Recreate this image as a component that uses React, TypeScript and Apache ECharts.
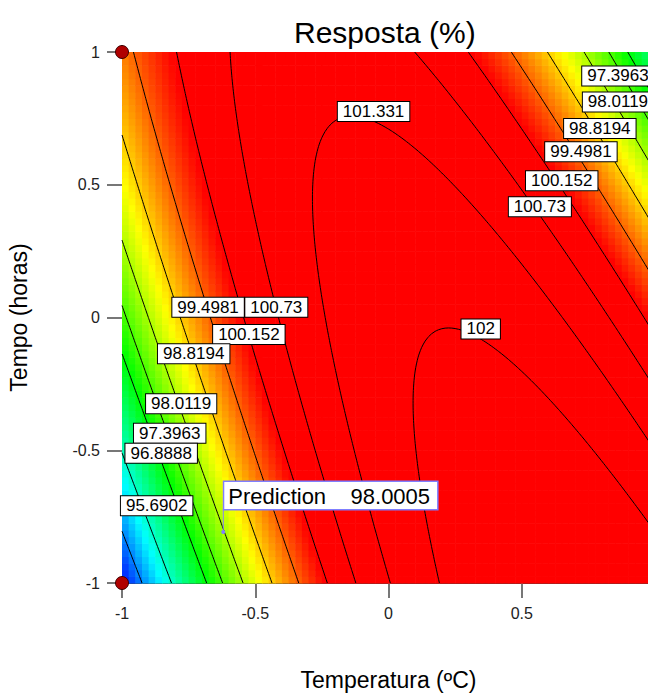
import React, { useEffect, useRef } from "react";
import * as echarts from "echarts";

// Second-order response-surface model:
// Resposta = b0 + b1*T + b2*t + b11*T^2 + b22*t^2 + b12*T*t
const modelTerms = ["b0", "b1", "b2", "b11", "b22", "b12"];
const modelCoefficients = [101.83, 1.336, -0.192, -3.22, -0.72, -2.934];

const contourLevels = [94.6, 95.6902, 96.8888, 97.3963, 98.0119, 98.8194, 99.4981, 100.152, 100.73, 101.331, 102];

const labelTexts = ["97.3963", "98.0119", "98.8194", "99.4981", "100.152", "100.73", "101.331", "102", "99.4981", "100.73", "100.152", "98.8194", "98.0119", "97.3963", "96.8888", "95.6902"];
const labelX = [0.861, 0.861, 0.793, 0.722, 0.65, 0.568, -0.056, 0.346, -0.677, -0.421, -0.524, -0.731, -0.778, -0.821, -0.853, -0.87];
const labelY = [0.91, 0.812, 0.712, 0.624, 0.515, 0.417, 0.776, -0.043, 0.039, 0.039, -0.064, -0.137, -0.325, -0.436, -0.511, -0.709];

const axisTicks = [-1, -0.5, 0, 0.5, 1];
const designX = [-1, -1];
const designY = [1, -1];
const predictionPoint = [-0.62, -0.808];
const predictionText = "Prediction    98.0005";

const colorStops = ["#0000ff", "#00ffff", "#00ff00", "#ffff00", "#ff0000"];
const colorDomain = [93.8, 100.1];
const cellCount = 80;
const contourResolution = 160;

const FONT = "'Liberation Sans', Arial, sans-serif";

function model(x: number, y: number): number {
  const [b0, b1, b2, b11, b22, b12] = modelCoefficients;
  return b0 + b1 * x + b2 * y + b11 * x * x + b22 * y * y + b12 * x * y;
}

function buildCells() {
  const lo = axisTicks[0];
  const hi = axisTicks[axisTicks.length - 1];
  const step = (hi - lo) / cellCount;
  const out: number[][] = [];
  for (let i = 0; i < cellCount; i++) {
    for (let j = 0; j < cellCount; j++) {
      const x0 = lo + i * step;
      const y0 = lo + j * step;
      const v = model(x0 + step / 2, y0 + step / 2);
      const vc = Math.min(colorDomain[1], Math.max(colorDomain[0], v));
      out.push([x0, y0, x0 + step, y0 + step, vc, v]);
    }
  }
  return out;
}

function contourLines(level: number): number[][][] {
  const n = contourResolution;
  const lo = axisTicks[0];
  const hi = axisTicks[axisTicks.length - 1];
  const c = (k: number) => lo + ((hi - lo) * k) / n;
  const V: number[][] = [];
  for (let i = 0; i <= n; i++) {
    V.push([]);
    for (let j = 0; j <= n; j++) V[i].push(model(c(i), c(j)));
  }
  const pts = new Map<string, number[]>();
  const segs: string[][] = [];
  const edge = (key: string, x1: number, y1: number, v1: number, x2: number, y2: number, v2: number) => {
    if (!pts.has(key)) {
      const t = (level - v1) / (v2 - v1);
      pts.set(key, [x1 + t * (x2 - x1), y1 + t * (y2 - y1)]);
    }
    return key;
  };
  for (let i = 0; i < n; i++) {
    for (let j = 0; j < n; j++) {
      const va = V[i][j], vb = V[i + 1][j], vc = V[i + 1][j + 1], vd = V[i][j + 1];
      const sa = va > level, sb = vb > level, sc = vc > level, sd = vd > level;
      const xa = c(i), xb = c(i + 1), ya = c(j), yd = c(j + 1);
      let B: string | null = null, R: string | null = null, T: string | null = null, L: string | null = null;
      if (sa !== sb) B = edge(`h${i},${j}`, xa, ya, va, xb, ya, vb);
      if (sb !== sc) R = edge(`v${i + 1},${j}`, xb, ya, vb, xb, yd, vc);
      if (sd !== sc) T = edge(`h${i},${j + 1}`, xa, yd, vd, xb, yd, vc);
      if (sa !== sd) L = edge(`v${i},${j}`, xa, ya, va, xa, yd, vd);
      const list = [B, R, T, L].filter((k) => k !== null) as string[];
      if (list.length === 2) segs.push(list);
      else if (list.length === 4) {
        const sm = model((xa + xb) / 2, (ya + yd) / 2) > level;
        if (sm === sa) {
          segs.push([B!, R!]);
          segs.push([T!, L!]);
        } else {
          segs.push([B!, L!]);
          segs.push([T!, R!]);
        }
      }
    }
  }
  const adj = new Map<string, number[]>();
  segs.forEach((s, k) => {
    for (const e of s) {
      if (!adj.has(e)) adj.set(e, []);
      adj.get(e)!.push(k);
    }
  });
  const used = new Array(segs.length).fill(false);
  const lines: number[][][] = [];
  for (let k = 0; k < segs.length; k++) {
    if (used[k]) continue;
    used[k] = true;
    const chain = [segs[k][0], segs[k][1]];
    let cur = segs[k][1];
    while (true) {
      const nx = (adj.get(cur) || []).find((m) => !used[m]);
      if (nx === undefined) break;
      used[nx] = true;
      const s = segs[nx];
      cur = s[0] === cur ? s[1] : s[0];
      chain.push(cur);
    }
    cur = segs[k][0];
    while (true) {
      const nx = (adj.get(cur) || []).find((m) => !used[m]);
      if (nx === undefined) break;
      used[nx] = true;
      const s = segs[nx];
      cur = s[0] === cur ? s[1] : s[0];
      chain.unshift(cur);
    }
    lines.push(chain.map((key) => pts.get(key)!));
  }
  return lines;
}

export default function App() {
  const ref = useRef<HTMLDivElement>(null);

  useEffect(() => {
    if (!ref.current) return;
    const chart = echarts.init(ref.current, undefined, { renderer: "svg" });

    const cells = buildCells();
    const contourSeries: any[] = [];
    contourLevels.forEach((lev) => {
      contourLines(lev).forEach((poly) => {
        contourSeries.push({
          type: "line",
          data: poly,
          showSymbol: false,
          symbol: "none",
          silent: true,
          clip: true,
          z: 3,
          lineStyle: { color: "#000", width: 1 },
        });
      });
    });

    const labelData = labelTexts.map((t, k) => [labelX[k], labelY[k], t]);
    const predTop = [predictionPoint[0], predictionPoint[1] + 0.087];

    const axisCommon = {
      type: "value",
      min: axisTicks[0],
      max: axisTicks[axisTicks.length - 1],
      interval: 0.5,
      splitLine: { show: false },
    };

    chart.setOption({
      animation: false,
      backgroundColor: "#fff",
      title: {
        text: "Resposta (%)",
        left: 289,
        top: 12,
        textStyle: { fontSize: 30, fontWeight: "normal", color: "#000", fontFamily: FONT },
      },
      grid: { left: 122, top: 52, width: 533, height: 531, containLabel: false, outerBoundsMode: "none" },
      visualMap: {
        type: "continuous",
        show: false,
        seriesIndex: 0,
        dimension: 4,
        min: colorDomain[0],
        max: colorDomain[1],
        inRange: { color: colorStops },
      },
      xAxis: [
        {
          ...axisCommon,
          position: "bottom",
          name: "Temperatura (ºC)",
          nameLocation: "middle",
          nameGap: 85,
          nameTextStyle: { fontSize: 23, color: "#000", fontFamily: FONT },
          axisLine: { show: true, onZero: false, lineStyle: { color: "#444", width: 1 } },
          axisTick: { show: true, inside: false, length: 15, lineStyle: { color: "#777", width: 2 } },
          axisLabel: { margin: 22, fontSize: 16, color: "#222", fontFamily: FONT, showMaxLabel: false },
        },
        {
          ...axisCommon,
          position: "top",
          axisLine: { show: true, onZero: false, lineStyle: { color: "#000", width: 1 } },
          axisTick: { show: false },
          axisLabel: { show: false },
        },
      ],
      yAxis: [
        {
          ...axisCommon,
          position: "left",
          name: "Tempo (horas)",
          nameLocation: "middle",
          nameGap: 92,
          nameTextStyle: { fontSize: 23, color: "#000", fontFamily: FONT },
          axisLine: { show: true, onZero: false, lineStyle: { color: "#444", width: 1 } },
          axisTick: { show: true, inside: false, length: 15, lineStyle: { color: "#777", width: 2 } },
          axisLabel: { margin: 22, fontSize: 16, color: "#222", fontFamily: FONT },
        },
        {
          ...axisCommon,
          position: "right",
          axisLine: { show: true, onZero: false, lineStyle: { color: "#000", width: 1 } },
          axisTick: { show: false },
          axisLabel: { show: false },
        },
      ],
      series: [
        {
          type: "custom",
          data: cells,
          encode: { x: [0, 2], y: [1, 3] },
          silent: true,
          z: 1,
          renderItem: (params: any, api: any) => {
            const p0 = api.coord([api.value(0), api.value(3)]);
            const p1 = api.coord([api.value(2), api.value(1)]);
            return {
              type: "rect",
              shape: { x: p0[0], y: p0[1], width: p1[0] - p0[0] + 0.6, height: p1[1] - p0[1] + 0.6 },
              style: { fill: api.visual("color") },
            };
          },
        },
        ...contourSeries,
        {
          type: "scatter",
          data: labelData,
          symbol: "rect",
          symbolSize: 1,
          itemStyle: { color: "rgba(0,0,0,0)", opacity: 1 },
          silent: true,
          clip: false,
          z: 5,
          label: {
            show: true,
            position: "inside",
            formatter: (p: any) => p.value[2],
            fontSize: 17,
            lineHeight: 18,
            color: "#000",
            fontFamily: FONT,
            backgroundColor: "#fff",
            borderColor: "#000",
            borderWidth: 1,
            padding: [1, 5, 0, 5],
            opacity: 1,
          },
        },
        {
          type: "line",
          data: [predictionPoint, predTop],
          showSymbol: false,
          symbol: "none",
          silent: true,
          z: 6,
          lineStyle: { color: "#8080ff", width: 1 },
        },
        {
          type: "scatter",
          data: [predictionPoint],
          symbol: "circle",
          symbolSize: 4,
          itemStyle: { color: "#8080ff", opacity: 1 },
          silent: true,
          clip: false,
          z: 7,
          label: {
            show: true,
            position: [3, -21],
            align: "left",
            verticalAlign: "bottom",
            formatter: predictionText,
            fontSize: 22,
            lineHeight: 25,
            color: "#000",
            fontFamily: FONT,
            backgroundColor: "#fff",
            borderColor: "#7f7fff",
            borderWidth: 1.5,
            padding: [2, 7, 0, 4],
            opacity: 1,
          },
        },
        {
          type: "scatter",
          data: designX.map((x, k) => [x, designY[k]]),
          symbol: "circle",
          symbolSize: 13,
          itemStyle: { color: "#b00000", borderColor: "#3a0000", borderWidth: 1, opacity: 1 },
          silent: true,
          clip: false,
          z: 8,
        },
      ],
    });

    return () => chart.dispose();
  }, []);

  return (
    <div style={{ position: "fixed", left: 0, top: 0, width: 648, height: 695, overflow: "hidden", background: "#fff" }}>
      <div ref={ref} style={{ width: 662, height: 695 }} />
    </div>
  );
}
